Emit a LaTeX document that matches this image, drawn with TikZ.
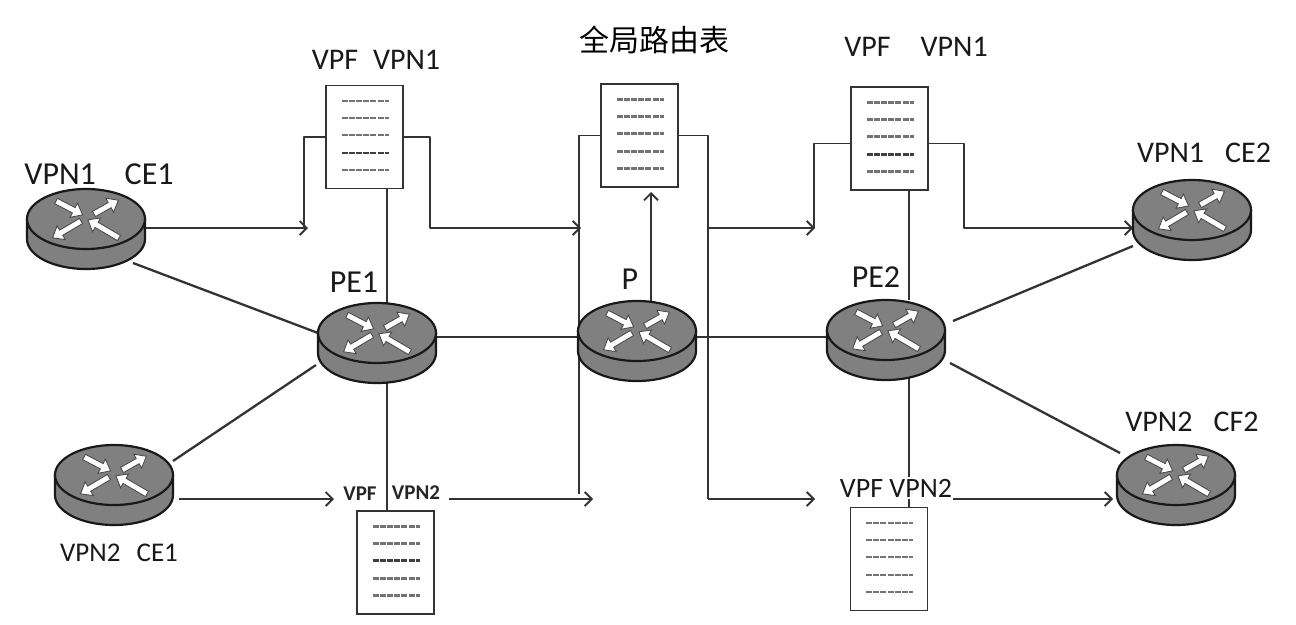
\documentclass[tikz,border=0pt]{standalone}
\usepackage{fontspec}
\setmainfont{Carlito}
\newfontfamily\cjk{Noto Sans CJK SC}
\usetikzlibrary{arrows.meta,shapes.geometric,backgrounds,positioning}
\definecolor{routergray}{HTML}{808080}
\definecolor{linedark}{HTML}{333333}
\tikzset{%
  link/.style = {draw=linedark,line width=2.3pt},
  flow/.style = {draw=linedark,line width=1.9pt,line join=round,
        -{Straight Barb[length=7pt,width=14pt,line width=1.9pt]}},
  plain/.style = {draw=linedark,line width=1.9pt,line join=round},
  disc/.style = {ellipse,draw=black!90,fill=routergray,line width=2.2pt,
        inner sep=0pt,outer sep=0pt,minimum width=118pt,minimum height=60pt},
  tab/.style = {rectangle,draw=linedark,fill=white,line width=1.9pt,
        inner sep=0pt,outer sep=0pt,minimum width=77pt,minimum height=103pt},
  tagbig/.style = {font=\fontsize{30}{31}\selectfont,inner sep=0pt,text=black!90},
  tagmid/.style = {font=\fontsize{27}{28}\selectfont,inner sep=0pt,text=black!90},
  tagsmall/.style = {font=\fontsize{21}{22}\selectfont\bfseries,inner sep=0pt,text=black!85}
}
\newcommand{\router}[3]{%
  \begin{scope}[shift={(#2,#3)}]
    \filldraw[draw=black!90,fill=routergray,line width=2.2pt] (-59,0) -- (-59,20)
      arc[start angle=180,end angle=360,x radius=59pt,y radius=30pt] -- (59,0) -- cycle;
    \node[disc] (#1) at (0,0) {};
    \foreach \ax/\ay/\ang/\len in {-30/-18/-27.5/30, 8/-5/29.5/28, -5/2/-149.4/33, 33/19/149.6/36} {
      \begin{scope}[shift={(\ax,\ay)},rotate=\ang]
        \filldraw[fill=white,draw=black!70,line width=.9pt] (0,-3) -- ({\len-10},-3) -- ({\len-10},-8)
          -- (\len,0) -- ({\len-10},8) -- ({\len-10},3) -- (0,3) -- cycle;
      \end{scope}
    }
  \end{scope}}
\newcommand{\vrftable}[4]{%
  \node[tab] (#1) at (#2,#3) {};
  \begin{scope}[shift={(#2,#3)}]
    \foreach \r [count=\i] in {-36,-19,-2,16,33} {
      \ifnum\i=#4
        \draw[black!75,line width=2.6pt,dash pattern=on 6pt off 1.2pt] (-23,\r) -- (24,\r);
      \else
        \draw[black!55,line width=2.2pt,dash pattern=on 6pt off 1.2pt] (-23,\r) -- (24,\r);
      \fi
    }
  \end{scope}}

\begin{document}
\begin{tikzpicture}[x=1pt,y=-1pt]
        \useasboundingbox (0,0) rectangle (1296,624);
        % routers
        \router{ce1}{86}{219}
        \router{ce3}{114}{475}
        \router{pe1}{377}{333}
        \router{p}{637}{331}
        \router{pe2}{886}{330}
        \router{ce2}{1192}{210}
        \router{cf2}{1176}{475}
        % tables
        \vrftable{vrf1}{364.5}{137}{4}
        \vrftable{glob}{639.5}{135.5}{0}
        \vrftable{vrf3}{889.5}{138.5}{4}
        \vrftable{vrf2}{395.5}{562.5}{3}
        \vrftable{vrf4}{889}{559}{0}
        % free ends of the arrows
        \coordinate (a1) at (308,228);
        \coordinate (a2) at (581,228);
        \coordinate (a3) at (815,228);
        \coordinate (a4) at (1133,228);
        \coordinate (b1) at (334,499);
        \coordinate (b2) at (593,499);
        \coordinate (b3) at (815,499);
        \coordinate (b4) at (1113,499);
        \coordinate (s2) at (449,499);
        \coordinate (s4) at (953,499);
        \coordinate (s3) at (708,228);
        \coordinate (e2) at (579,494);
        \begin{scope}[on background layer]
          % router links
          \draw[link] ([shift={(47,44)}]ce1.center) to (pe1.west);
          \draw[link] ([shift={(59,-14)}]ce3.center) to ([shift={(-61,32)}]pe1.center);
          \draw[link] ([yshift=-4pt]pe1.east) to ([yshift=-6pt]p.west);
          \draw[link] ([yshift=-6pt]p.east) to ([yshift=-7pt]pe2.west);
          \draw[link] ([shift={(67,-9)}]pe2.center) to ([shift={(-59,36)}]ce2.center);
          \draw[link] ([shift={(64,33)}]pe2.center) to ([shift={(-56,-22)}]cf2.center);
          % tables to routers
          \draw[plain] ([xshift=22.5pt]vrf1.south) to ([xshift=10pt]pe1.north);
          \draw[plain] ([shift={(10,40)}]pe1.center) to ([xshift=-8.5pt]vrf2.north);
          \draw[plain] ([xshift=19.5pt]vrf3.south) to ([xshift=23pt]pe2.north);
          \draw[plain] ([shift={(23,40)}]pe2.center) to ([xshift=20pt]vrf4.north);
          \draw[flow,shorten >=5pt] ([xshift=14pt]p.north) to ([xshift=11.5pt]glob.south);
          % upper flows
          \draw[flow] (a1 -| ce1.east) to (a1);
          \draw[plain] ([xshift=-4pt]a1) |- (vrf1.west);
          \draw[flow] (vrf1.east) -- ++(27,0) |- (a2);
          \draw[plain] (glob.west) -| (e2);
          \draw[plain] (glob.east) -| (b3 -| s3);
          \draw[flow] (s3) to (a3);
          \draw[flow] (b3 -| s3) to (b3);
          \draw[plain] ([xshift=-1pt]a3) |- ([yshift=-5pt]vrf3.west);
          \draw[flow] ([yshift=-5pt]vrf3.east) -- ++(36,0) |- (a4);
          % lower flows
          \draw[flow] (b1 -| ce3.east) ++(6,0) to (b1);
          \draw[flow] (s2) to (b2);
          \draw[flow] (s4) to (b4);
        \end{scope}
        % labels
        \node[tagbig,font=\fontsize{32}{33}\selectfont] (lce1) at (99,174) {VPN1\hspace{.9em}CE1};
        \node[tagbig] (lvrf1) at (376,60) {VPF\hspace{.5em}VPN1};
        \node[font=\cjk\fontsize{30}{31}\selectfont,inner sep=0pt,text=black] (lglob) at (654,40) {全局路由表};
        \node[tagbig] (lvrf3) at (916,47) {VPF\hspace{1em}VPN1};
        \node[tagbig] (lce2) at (1204,153) {VPN1\hspace{.7em}CE2};
        \node[tagbig,font=\fontsize{32}{33}\selectfont] (lpe1) at (354,282) {PE1};
        \node[tagbig,font=\fontsize{32}{33}\selectfont] (lp) at (630,279) {P};
        \node[tagbig,font=\fontsize{32}{33}\selectfont] (lpe2) at (876,277) {PE2};
        \node[tagbig] (lcf2) at (1192,422) {VPN2\hspace{.7em}CF2};
        \node[tagmid] (lce3) at (119,553) {VPN2\hspace{.6em}CE1};
        \node[tagsmall] (lvpf2) at (360,494) {VPF};
        \node[tagsmall] (lvpn2) at (416,493) {VPN2};
        \node[tagmid,font=\fontsize{28}{29}\selectfont,fill=white,inner ysep=2pt] (lvrf4) at (896,488) {VPF VPN2};
    \end{tikzpicture}
\end{document}
